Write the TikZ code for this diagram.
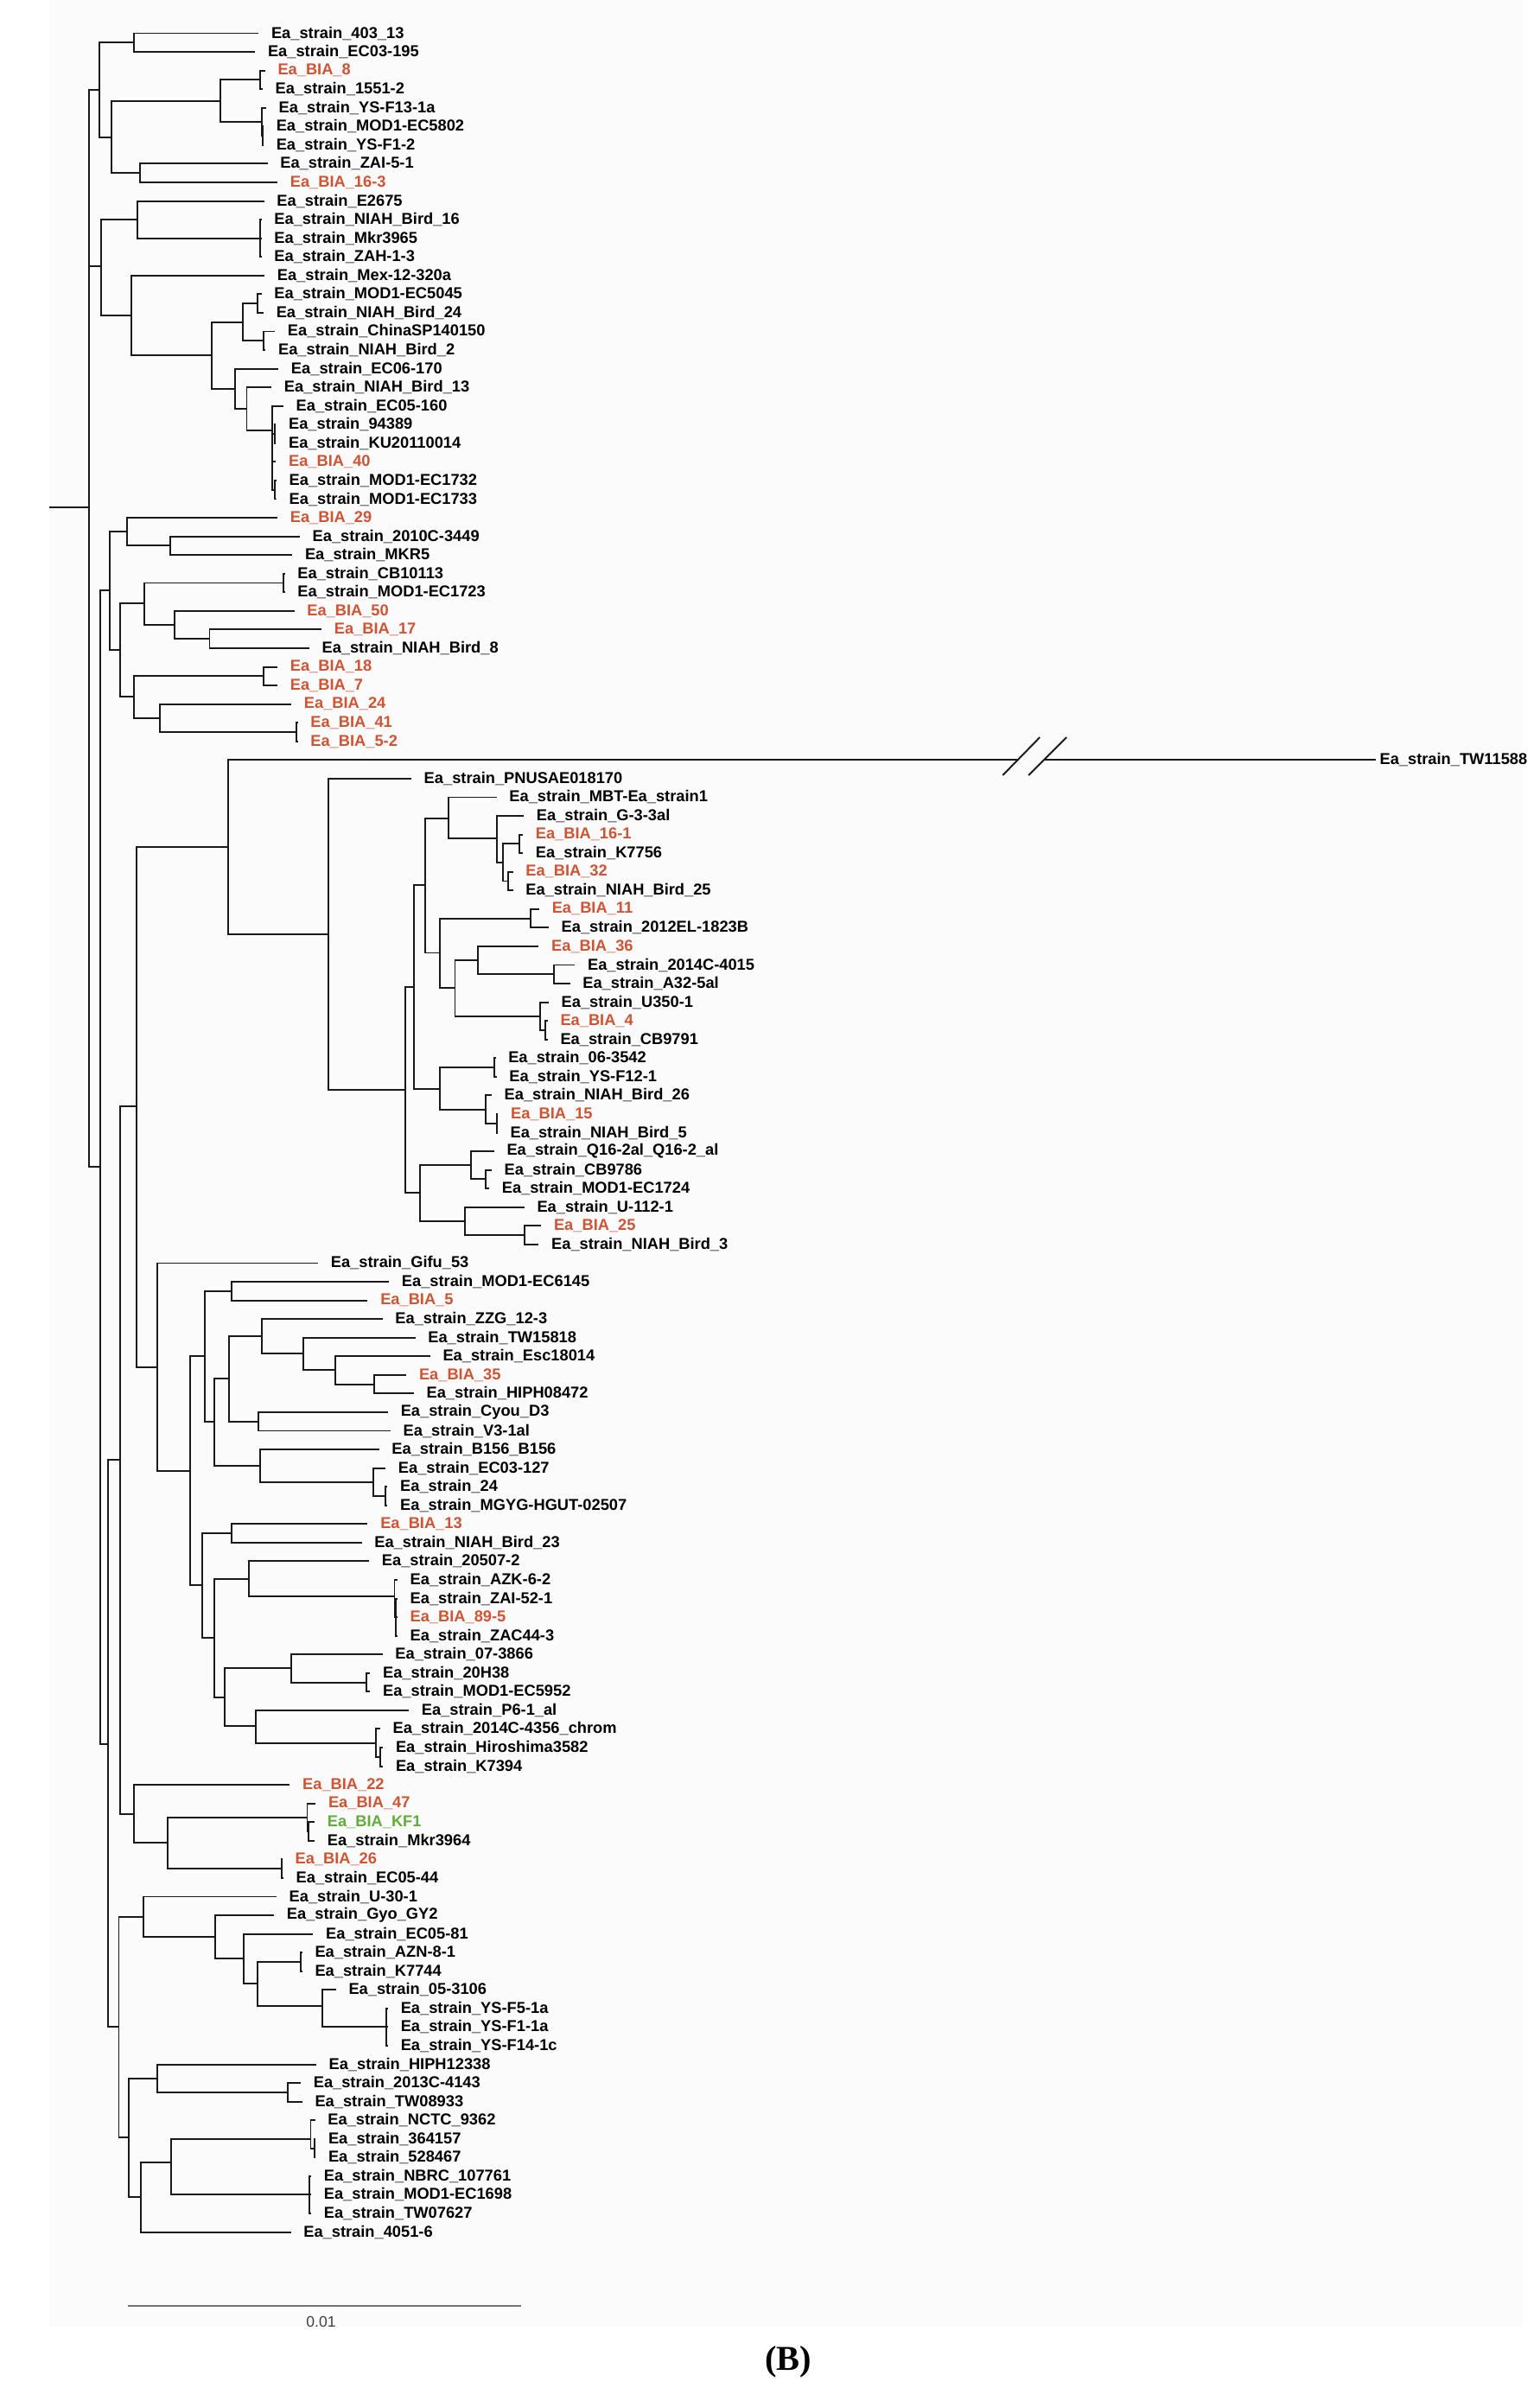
\documentclass[tikz,border=0pt]{standalone}
\usepackage{fontspec}
\usepackage{xcolor}
\newfontfamily\leaffont{Liberation Sans}
\newfontfamily\capfont{Liberation Serif}
\definecolor{biared}{RGB}{206,84,52}
\definecolor{biagreen}{RGB}{98,172,60}
\tikzset{
  leaf/.style={anchor=west, inner xsep=4pt, inner ysep=0.5pt, font=\leaffont\bfseries\fontsize{5.2}{6}\selectfont},
  bia/.style={leaf, text=biared},
  kf/.style={leaf, text=biagreen},
  branch/.style={line width=0.55pt, black!90},
}

\begin{document}
\begin{tikzpicture}[x=0.0057405cm, y=-0.2156cm]
%      \draw[help lines] (0,0) grid (3000,120);
      \useasboundingbox (-69.68,-0.786) rectangle (3036.3,127.37);
      \fill[black!1.5] (29.6,-0.786) rectangle (3001.5,124.08);

      % leaves
      \node[leaf] (l1)  at (452,1)  {Ea\_strain\_403\_13};
      \node[leaf] (l2)  at (445,2)  {Ea\_strain\_EC03-195};
      \node[bia]  (l3)  at (465,3)  {Ea\_BIA\_8};
      \node[leaf] (l4)  at (460,4)  {Ea\_strain\_1551-2};
      \node[leaf] (l5)  at (467,5)  {Ea\_strain\_YS-F13-1a};
      \node[leaf] (l6)  at (462,6)  {Ea\_strain\_MOD1-EC5802};
      \node[leaf] (l7)  at (462,7)  {Ea\_strain\_YS-F1-2};
      \node[leaf] (l8)  at (470,8)  {Ea\_strain\_ZAI-5-1};
      \node[bia]  (l9)  at (490,9)  {Ea\_BIA\_16-3};
      \node[leaf] (l10) at (463,10) {Ea\_strain\_E2675};
      \node[leaf] (l11) at (458,11) {Ea\_strain\_NIAH\_Bird\_16};
      \node[leaf] (l12) at (458,12) {Ea\_strain\_Mkr3965};
      \node[leaf] (l13) at (458,13) {Ea\_strain\_ZAH-1-3};
      \node[leaf] (l14) at (464,14) {Ea\_strain\_Mex-12-320a};
      \node[leaf] (l15) at (458,15) {Ea\_strain\_MOD1-EC5045};
      \node[leaf] (l16) at (462,16) {Ea\_strain\_NIAH\_Bird\_24};
      \node[leaf] (l17) at (485,17) {Ea\_strain\_ChinaSP140150};
      \node[leaf] (l18) at (466,18) {Ea\_strain\_NIAH\_Bird\_2};
      \node[leaf] (l19) at (492,19) {Ea\_strain\_EC06-170};
      \node[leaf] (l20) at (478,20) {Ea\_strain\_NIAH\_Bird\_13};
      \node[leaf] (l21) at (502,21) {Ea\_strain\_EC05-160};
      \node[leaf] (l22) at (487,22) {Ea\_strain\_94389};
      \node[leaf] (l23) at (487,23) {Ea\_strain\_KU20110014};
      \node[bia]  (l24) at (487,24) {Ea\_BIA\_40};
      \node[leaf] (l25) at (488,25) {Ea\_strain\_MOD1-EC1732};
      \node[leaf] (l26) at (488,26) {Ea\_strain\_MOD1-EC1733};
      \node[bia]  (l27) at (490,27) {Ea\_BIA\_29};
      \node[leaf] (l28) at (535,28) {Ea\_strain\_2010C-3449};
      \node[leaf] (l29) at (520,29) {Ea\_strain\_MKR5};
      \node[leaf] (l30) at (505,30) {Ea\_strain\_CB10113};
      \node[leaf] (l31) at (505,31) {Ea\_strain\_MOD1-EC1723};
      \node[bia]  (l32) at (524,32) {Ea\_BIA\_50};
      \node[bia]  (l33) at (579,33) {Ea\_BIA\_17};
      \node[leaf] (l34) at (554,34) {Ea\_strain\_NIAH\_Bird\_8};
      \node[bia]  (l35) at (490,35) {Ea\_BIA\_18};
      \node[bia]  (l36) at (490,36) {Ea\_BIA\_7};
      \node[bia]  (l37) at (518,37) {Ea\_BIA\_24};
      \node[bia]  (l38) at (531,38) {Ea\_BIA\_41};
      \node[bia]  (l39) at (531,39) {Ea\_BIA\_5-2};
      \node[leaf, inner xsep=1pt] (l40) at (2706,40) {Ea\_strain\_TW11588};
      \node[leaf] (l41) at (760,41) {Ea\_strain\_PNUSAE018170};
      \node[leaf] (l42) at (932,42) {Ea\_strain\_MBT-Ea\_strain1};
      \node[leaf] (l43) at (987,43) {Ea\_strain\_G-3-3al};
      \node[bia]  (l44) at (985,44) {Ea\_BIA\_16-1};
      \node[leaf] (l45) at (985,45) {Ea\_strain\_K7756};
      \node[bia]  (l46) at (965,46) {Ea\_BIA\_32};
      \node[leaf] (l47) at (965,47) {Ea\_strain\_NIAH\_Bird\_25};
      \node[bia]  (l48) at (1018,48) {Ea\_BIA\_11};
      \node[leaf] (l49) at (1037,49) {Ea\_strain\_2012EL-1823B};
      \node[bia]  (l50) at (1017,50) {Ea\_BIA\_36};
      \node[leaf] (l51) at (1090,51) {Ea\_strain\_2014C-4015};
      \node[leaf] (l52) at (1080,52) {Ea\_strain\_A32-5al};
      \node[leaf] (l53) at (1037,53) {Ea\_strain\_U350-1};
      \node[bia]  (l54) at (1035,54) {Ea\_BIA\_4};
      \node[leaf] (l55) at (1035,55) {Ea\_strain\_CB9791};
      \node[leaf] (l56) at (930,56) {Ea\_strain\_06-3542};
      \node[leaf] (l57) at (932,57) {Ea\_strain\_YS-F12-1};
      \node[leaf] (l58) at (922,58) {Ea\_strain\_NIAH\_Bird\_26};
      \node[bia]  (l59) at (935,59) {Ea\_BIA\_15};
      \node[leaf] (l60) at (934,60) {Ea\_strain\_NIAH\_Bird\_5};
      \node[leaf] (l61) at (927,61) {Ea\_strain\_Q16-2al\_Q16-2\_al};
      \node[leaf] (l62) at (922,62) {Ea\_strain\_CB9786};
      \node[leaf] (l63) at (917,63) {Ea\_strain\_MOD1-EC1724};
      \node[leaf] (l64) at (988,64) {Ea\_strain\_U-112-1};
      \node[bia]  (l65) at (1022,65) {Ea\_BIA\_25};
      \node[leaf] (l66) at (1017,66) {Ea\_strain\_NIAH\_Bird\_3};
      \node[leaf] (l67) at (572,67) {Ea\_strain\_Gifu\_53};
      \node[leaf] (l68) at (715,68) {Ea\_strain\_MOD1-EC6145};
      \node[bia]  (l69) at (672,69) {Ea\_BIA\_5};
      \node[leaf] (l70) at (702,70) {Ea\_strain\_ZZG\_12-3};
      \node[leaf] (l71) at (768,71) {Ea\_strain\_TW15818};
      \node[leaf] (l72) at (798,72) {Ea\_strain\_Esc18014};
      \node[bia]  (l73) at (750,73) {Ea\_BIA\_35};
      \node[leaf] (l74) at (765,74) {Ea\_strain\_HIPH08472};
      \node[leaf] (l75) at (713,75) {Ea\_strain\_Cyou\_D3};
      \node[leaf] (l76) at (718,76) {Ea\_strain\_V3-1al};
      \node[leaf] (l77) at (695,77) {Ea\_strain\_B156\_B156};
      \node[leaf] (l78) at (708,78) {Ea\_strain\_EC03-127};
      \node[leaf] (l79) at (712,79) {Ea\_strain\_24};
      \node[leaf] (l80) at (712,80) {Ea\_strain\_MGYG-HGUT-02507};
      \node[bia]  (l81) at (672,81) {Ea\_BIA\_13};
      \node[leaf] (l82) at (660,82) {Ea\_strain\_NIAH\_Bird\_23};
      \node[leaf] (l83) at (675,83) {Ea\_strain\_20507-2};
      \node[leaf] (l84) at (732,84) {Ea\_strain\_AZK-6-2};
      \node[leaf] (l85) at (732,85) {Ea\_strain\_ZAI-52-1};
      \node[bia]  (l86) at (732,86) {Ea\_BIA\_89-5};
      \node[leaf] (l87) at (732,87) {Ea\_strain\_ZAC44-3};
      \node[leaf] (l88) at (702,88) {Ea\_strain\_07-3866};
      \node[leaf] (l89) at (677,89) {Ea\_strain\_20H38};
      \node[leaf] (l90) at (677,90) {Ea\_strain\_MOD1-EC5952};
      \node[leaf] (l91) at (755,91) {Ea\_strain\_P6-1\_al};
      \node[leaf] (l92) at (697,92) {Ea\_strain\_2014C-4356\_chrom};
      \node[leaf] (l93) at (703,93) {Ea\_strain\_Hiroshima3582};
      \node[leaf] (l94) at (703,94) {Ea\_strain\_K7394};
      \node[bia]  (l95) at (515,95) {Ea\_BIA\_22};
      \node[bia]  (l96) at (567,96) {Ea\_BIA\_47};
      \node[kf]   (l97) at (565,97) {Ea\_BIA\_KF1};
      \node[leaf] (l98) at (565,98) {Ea\_strain\_Mkr3964};
      \node[bia]  (l99) at (500,99) {Ea\_BIA\_26};
      \node[leaf] (l100) at (502,100) {Ea\_strain\_EC05-44};
      \node[leaf] (l101) at (488,101) {Ea\_strain\_U-30-1};
      \node[leaf] (l102) at (483,102) {Ea\_strain\_Gyo\_GY2};
      \node[leaf] (l103) at (562,103) {Ea\_strain\_EC05-81};
      \node[leaf] (l104) at (540,104) {Ea\_strain\_AZN-8-1};
      \node[leaf] (l105) at (540,105) {Ea\_strain\_K7744};
      \node[leaf] (l106) at (608,106) {Ea\_strain\_05-3106};
      \node[leaf] (l107) at (713,107) {Ea\_strain\_YS-F5-1a};
      \node[leaf] (l108) at (713,108) {Ea\_strain\_YS-F1-1a};
      \node[leaf] (l109) at (713,109) {Ea\_strain\_YS-F14-1c};
      \node[leaf] (l110) at (568,110) {Ea\_strain\_HIPH12338};
      \node[leaf] (l111) at (537,111) {Ea\_strain\_2013C-4143};
      \node[leaf] (l112) at (540,112) {Ea\_strain\_TW08933};
      \node[leaf] (l113) at (566,113) {Ea\_strain\_NCTC\_9362};
      \node[leaf] (l114) at (567,114) {Ea\_strain\_364157};
      \node[leaf] (l115) at (567,115) {Ea\_strain\_528467};
      \node[leaf] (l116) at (558,116) {Ea\_strain\_NBRC\_107761};
      \node[leaf] (l117) at (558,117) {Ea\_strain\_MOD1-EC1698};
      \node[leaf] (l118) at (558,118) {Ea\_strain\_TW07627};
      \node[leaf] (l119) at (517,119) {Ea\_strain\_4051-6};

      % inner nodes
      \coordinate (stub) at (30,26.43);
      \coordinate (root) at (110,26.43);
      \coordinate (nT)  at (130,4.05);
      \coordinate (nA)  at (200,1.5);
      \coordinate (nA2) at (155,6.57);
      \coordinate (nA3) at (375,4.63);
      \coordinate (nA4) at (212,8.5);
      \coordinate (nA5) at (455,3.5);
      \coordinate (nA6) at (458,5.75);
      \coordinate (nA7) at (460,6.5);
      \coordinate (nT2) at (135,13.5);
      \coordinate (nC1) at (208,11);
      \coordinate (nC2) at (195,16.13);
      \coordinate (nC3) at (455,12);
      \coordinate (nC4) at (357,18.29);
      \coordinate (nC5) at (420,16.5);
      \coordinate (nC6) at (405,20.07);
      \coordinate (nC7) at (450,15.5);
      \coordinate (nC8) at (462,17.5);
      \coordinate (nC9) at (428,21.14);
      \coordinate (nC10) at (480,22.3);
      \coordinate (nC11) at (484,22.5);
      \coordinate (nC12) at (484,25.5);
      \coordinate (nB)  at (133,61.85);
      \coordinate (nD1) at (152,30.9);
      \coordinate (nE1) at (187,27.75);
      \coordinate (nE2) at (172,34.08);
      \coordinate (nE3) at (273,28.5);
      \coordinate (nE4) at (222,31.6);
      \coordinate (nE5) at (200,36.6);
      \coordinate (nE6) at (502,30.5);
      \coordinate (nE7) at (283,32.75);
      \coordinate (nE8) at (353,33.5);
      \coordinate (nE9) at (462,35.5);
      \coordinate (nE10) at (252,37.75);
      \coordinate (nE11) at (528,38.5);
      \coordinate (nD)  at (148,92.8);
      \coordinate (nF)  at (172,77.55);
      \coordinate (nH)  at (205,58.6);
      \coordinate (nI)  at (200,96.55);
      \coordinate (nJ)  at (390,44.67);
      \coordinate (brkL) at (1982.4,40);
      \coordinate (brkR) at (2038.1,40);
      \coordinate (nJ1) at (592,49.35);
      \coordinate (nJ2) at (748,57.7);
      \coordinate (nJ3) at (765,52.18);
      \coordinate (nJ4) at (778,63.2);
      \coordinate (nJ5) at (788,46.7);
      \coordinate (nJ6) at (818,57.66);
      \coordinate (nJ7) at (835,43.14);
      \coordinate (nJ8) at (818,50.35);
      \coordinate (nJ9) at (932,44.22);
      \coordinate (nJ10) at (945,45.5);
      \coordinate (nJ11) at (978,44.5);
      \coordinate (nJ12) at (955,46.5);
      \coordinate (nJ13) at (1000,48.5);
      \coordinate (nJ14) at (848,52.23);
      \coordinate (nJ15) at (895,50.74);
      \coordinate (nJ16) at (1020,53.75);
      \coordinate (nJ17) at (1048,51.5);
      \coordinate (nJ18) at (1030,54.5);
      \coordinate (nJ19) at (928,56.5);
      \coordinate (nJ20) at (910,58.75);
      \coordinate (nJ21) at (932,59.5);
      \coordinate (nJ22) at (880,61.75);
      \coordinate (nJ23) at (868,64.75);
      \coordinate (nJ24) at (910,62.5);
      \coordinate (nJ25) at (988,65.5);
      \coordinate (nK)  at (248,72.6);
      \coordinate (nK1) at (313,78.15);
      \coordinate (nK2) at (343,72.0);
      \coordinate (nK3) at (338,84.3);
      \coordinate (nK4) at (397,68.5);
      \coordinate (nK5) at (363,75.5);
      \coordinate (nK6) at (393,73.2);
      \coordinate (nK7) at (455,77.88);
      \coordinate (nK8) at (458,70.93);
      \coordinate (nK9) at (452,75.5);
      \coordinate (nK10) at (542,71.85);
      \coordinate (nK11) at (607,72.75);
      \coordinate (nK12) at (685,73.5);
      \coordinate (nK13) at (683,78.75);
      \coordinate (nK14) at (708,79.5);
      \coordinate (nK15) at (398,81.5);
      \coordinate (nK16) at (363,87.1);
      \coordinate (nK17) at (432,83.95);
      \coordinate (nK18) at (383,90.3);
      \coordinate (nK19) at (726,84.9);
      \coordinate (nK20) at (729,86);
      \coordinate (nK21) at (517,88.75);
      \coordinate (nK22) at (447,91.85);
      \coordinate (nK23) at (670,89.5);
      \coordinate (nK24) at (688,92.75);
      \coordinate (nK25) at (698,93.5);
      \coordinate (nI1) at (268,98.1);
      \coordinate (nI2) at (550,96.75);
      \coordinate (nI3) at (498,99.5);
      \coordinate (nI4) at (553,97.5);
      \coordinate (nG)  at (170,108);
      \coordinate (nG1) at (220,102.1);
      \coordinate (nG2) at (190,113.9);
      \coordinate (nG3) at (365,103.15);
      \coordinate (nG4) at (422,104.33);
      \coordinate (nG5) at (450,105.65);
      \coordinate (nG6) at (537,104.5);
      \coordinate (nG7) at (580,106.85);
      \coordinate (nG8) at (710,108);
      \coordinate (nG9) at (248,110.75);
      \coordinate (nG10) at (215,117.1);
      \coordinate (nG11) at (510,111.5);
      \coordinate (nG12) at (275,115.25);
      \coordinate (nG13) at (557,114);
      \coordinate (nG14) at (555,117);
      \coordinate (nG15) at (564,114.5);

      % branches
      \draw[branch] (stub) -- (root);
      \draw[branch] (root) |- (nT)  (root) |- (nT2)  (root) |- (nB);

      % upper clades
      \draw[branch] (nT) |- (nA)  (nT) |- (nA2);
      \draw[branch] (nA) |- (l1.west)  (nA) |- (l2.west);
      \draw[branch] (nA2) |- (nA3)  (nA2) |- (nA4);
      \draw[branch] (nA3) |- (nA5)  (nA3) |- (nA6);
      \draw[branch] (nA5) |- (l3.west)  (nA5) |- (l4.west);
      \draw[branch] (nA6) |- (l5.west)  (nA6) |- (nA7);
      \draw[branch] (nA7) |- (l6.west)  (nA7) |- (l7.west);
      \draw[branch] (nA4) |- (l8.west)  (nA4) |- (l9.west);
      \draw[branch] (nT2) |- (nC1)  (nT2) |- (nC2);
      \draw[branch] (nC1) |- (l10.west)  (nC1) |- (nC3);
      \draw[branch] (nC3) |- (l11.west)  (nC3) |- (l12.west)  (nC3) |- (l13.west);
      \draw[branch] (nC2) |- (l14.west)  (nC2) |- (nC4);
      \draw[branch] (nC4) |- (nC5)  (nC4) |- (nC6);
      \draw[branch] (nC5) |- (nC7)  (nC5) |- (nC8);
      \draw[branch] (nC7) |- (l15.west)  (nC7) |- (l16.west);
      \draw[branch] (nC8) |- (l17.west)  (nC8) |- (l18.west);
      \draw[branch] (nC6) |- (l19.west)  (nC6) |- (nC9);
      \draw[branch] (nC9) |- (l20.west)  (nC9) |- (nC10);
      \draw[branch] (nC10) |- (l21.west)  (nC10) |- (nC11)  (nC10) |- (l24.west)  (nC10) |- (nC12);
      \draw[branch] (nC11) |- (l22.west)  (nC11) |- (l23.west);
      \draw[branch] (nC12) |- (l25.west)  (nC12) |- (l26.west);

      % BIA_29 .. BIA_5-2
      \draw[branch] (nB) |- (nD1)  (nB) |- (nD);
      \draw[branch] (nD1) |- (nE1)  (nD1) |- (nE2);
      \draw[branch] (nE1) |- (l27.west)  (nE1) |- (nE3);
      \draw[branch] (nE3) |- (l28.west)  (nE3) |- (l29.west);
      \draw[branch] (nE2) |- (nE4)  (nE2) |- (nE5);
      \draw[branch] (nE4) |- (nE6)  (nE4) |- (nE7);
      \draw[branch] (nE6) |- (l30.west)  (nE6) |- (l31.west);
      \draw[branch] (nE7) |- (l32.west)  (nE7) |- (nE8);
      \draw[branch] (nE8) |- (l33.west)  (nE8) |- (l34.west);
      \draw[branch] (nE5) |- (nE9)  (nE5) |- (nE10);
      \draw[branch] (nE9) |- (l35.west)  (nE9) |- (l36.west);
      \draw[branch] (nE10) |- (l37.west)  (nE10) |- (nE11);
      \draw[branch] (nE11) |- (l38.west)  (nE11) |- (l39.west);

      % TW11588 clade, long branch cut
      \draw[branch] (nD) |- (nF)  (nD) |- (nG);
      \draw[branch] (nF) |- (nH)  (nF) |- (nI);
      \draw[branch] (nH) |- (nJ)  (nH) |- (nK);
      \draw[branch] (nJ) |- (brkL);
      \draw[branch] (brkR) -- (l40.west);
      \draw[branch] (1952.8,40.82) -- (2027.7,38.78);
      \draw[branch] (2005,40.82) -- (2081.7,38.78);
      \draw[branch] (nJ) |- (nJ1);
      \draw[branch] (nJ1) |- (l41.west)  (nJ1) |- (nJ2);
      \draw[branch] (nJ2) |- (nJ3)  (nJ2) |- (nJ4);
      \draw[branch] (nJ3) |- (nJ5)  (nJ3) |- (nJ6);
      \draw[branch] (nJ5) |- (nJ7)  (nJ5) |- (nJ8);
      \draw[branch] (nJ7) |- (l42.west)  (nJ7) |- (nJ9);
      \draw[branch] (nJ9) |- (l43.west)  (nJ9) |- (nJ10);
      \draw[branch] (nJ10) |- (nJ11)  (nJ10) |- (nJ12);
      \draw[branch] (nJ11) |- (l44.west)  (nJ11) |- (l45.west);
      \draw[branch] (nJ12) |- (l46.west)  (nJ12) |- (l47.west);
      \draw[branch] (nJ8) |- (nJ13)  (nJ8) |- (nJ14);
      \draw[branch] (nJ13) |- (l48.west)  (nJ13) |- (l49.west);
      \draw[branch] (nJ14) |- (nJ15)  (nJ14) |- (nJ16);
      \draw[branch] (nJ15) |- (l50.west)  (nJ15) |- (nJ17);
      \draw[branch] (nJ17) |- (l51.west)  (nJ17) |- (l52.west);
      \draw[branch] (nJ16) |- (l53.west)  (nJ16) |- (nJ18);
      \draw[branch] (nJ18) |- (l54.west)  (nJ18) |- (l55.west);
      \draw[branch] (nJ6) |- (nJ19)  (nJ6) |- (nJ20);
      \draw[branch] (nJ19) |- (l56.west)  (nJ19) |- (l57.west);
      \draw[branch] (nJ20) |- (l58.west)  (nJ20) |- (nJ21);
      \draw[branch] (nJ21) |- (l59.west)  (nJ21) |- (l60.west);
      \draw[branch] (nJ4) |- (nJ22)  (nJ4) |- (nJ23);
      \draw[branch] (nJ22) |- (l61.west)  (nJ22) |- (nJ24);
      \draw[branch] (nJ24) |- (l62.west)  (nJ24) |- (l63.west);
      \draw[branch] (nJ23) |- (l64.west)  (nJ23) |- (nJ25);
      \draw[branch] (nJ25) |- (l65.west)  (nJ25) |- (l66.west);

      % Gifu_53 .. K7394
      \draw[branch] (nK) |- (l67.west)  (nK) |- (nK1);
      \draw[branch] (nK1) |- (nK2)  (nK1) |- (nK3);
      \draw[branch] (nK2) |- (nK4)  (nK2) |- (nK5);
      \draw[branch] (nK4) |- (l68.west)  (nK4) |- (l69.west);
      \draw[branch] (nK5) |- (nK6)  (nK5) |- (nK7);
      \draw[branch] (nK6) |- (nK8)  (nK6) |- (nK9);
      \draw[branch] (nK8) |- (l70.west)  (nK8) |- (nK10);
      \draw[branch] (nK10) |- (l71.west)  (nK10) |- (nK11);
      \draw[branch] (nK11) |- (l72.west)  (nK11) |- (nK12);
      \draw[branch] (nK12) |- (l73.west)  (nK12) |- (l74.west);
      \draw[branch] (nK9) |- (l75.west)  (nK9) |- (l76.west);
      \draw[branch] (nK7) |- (l77.west)  (nK7) |- (nK13);
      \draw[branch] (nK13) |- (l78.west)  (nK13) |- (nK14);
      \draw[branch] (nK14) |- (l79.west)  (nK14) |- (l80.west);
      \draw[branch] (nK3) |- (nK15)  (nK3) |- (nK16);
      \draw[branch] (nK15) |- (l81.west)  (nK15) |- (l82.west);
      \draw[branch] (nK16) |- (nK17)  (nK16) |- (nK18);
      \draw[branch] (nK17) |- (l83.west)  (nK17) |- (nK19);
      \draw[branch] (nK19) |- (l84.west)  (nK19) |- (nK20);
      \draw[branch] (nK20) |- (l85.west)  (nK20) |- (l86.west)  (nK20) |- (l87.west);
      \draw[branch] (nK18) |- (nK21)  (nK18) |- (nK22);
      \draw[branch] (nK21) |- (l88.west)  (nK21) |- (nK23);
      \draw[branch] (nK23) |- (l89.west)  (nK23) |- (l90.west);
      \draw[branch] (nK22) |- (l91.west)  (nK22) |- (nK24);
      \draw[branch] (nK24) |- (l92.west)  (nK24) |- (nK25);
      \draw[branch] (nK25) |- (l93.west)  (nK25) |- (l94.west);

      % BIA_22 .. EC05-44
      \draw[branch] (nI) |- (l95.west)  (nI) |- (nI1);
      \draw[branch] (nI1) |- (nI2)  (nI1) |- (nI3);
      \draw[branch] (nI2) |- (l96.west)  (nI2) |- (nI4);
      \draw[branch] (nI4) |- (l97.west)  (nI4) |- (l98.west);
      \draw[branch] (nI3) |- (l99.west)  (nI3) |- (l100.west);

      % lower clades
      \draw[branch] (nG) |- (nG1)  (nG) |- (nG2);
      \draw[branch] (nG1) |- (l101.west)  (nG1) |- (nG3);
      \draw[branch] (nG3) |- (l102.west)  (nG3) |- (nG4);
      \draw[branch] (nG4) |- (l103.west)  (nG4) |- (nG5);
      \draw[branch] (nG5) |- (nG6)  (nG5) |- (nG7);
      \draw[branch] (nG6) |- (l104.west)  (nG6) |- (l105.west);
      \draw[branch] (nG7) |- (l106.west)  (nG7) |- (nG8);
      \draw[branch] (nG8) |- (l107.west)  (nG8) |- (l108.west)  (nG8) |- (l109.west);
      \draw[branch] (nG2) |- (nG9)  (nG2) |- (nG10);
      \draw[branch] (nG9) |- (l110.west)  (nG9) |- (nG11);
      \draw[branch] (nG11) |- (l111.west)  (nG11) |- (l112.west);
      \draw[branch] (nG10) |- (nG12)  (nG10) |- (l119.west);
      \draw[branch] (nG12) |- (nG13)  (nG12) |- (nG14);
      \draw[branch] (nG13) |- (l113.west)  (nG13) |- (nG15);
      \draw[branch] (nG15) |- (l114.west)  (nG15) |- (l115.west);
      \draw[branch] (nG14) |- (l116.west)  (nG14) |- (l117.west)  (nG14) |- (l118.west);

      % scale bar and panel letter
      \coordinate (sbL) at (188.1,122.95);
      \coordinate (sbR) at (980.7,122.95);
      \draw[line width=0.6pt, black!55] (sbL) -- (sbR);
      \node[font=\leaffont\fontsize{5}{6}\selectfont, text=black!75] (sclab) at (578,123.8) {0.01};
      \node[font=\capfont\bfseries\fontsize{11.5}{13}\selectfont] (panel) at (1520.8,125.98) {(B)};
\end{tikzpicture}
\end{document}
